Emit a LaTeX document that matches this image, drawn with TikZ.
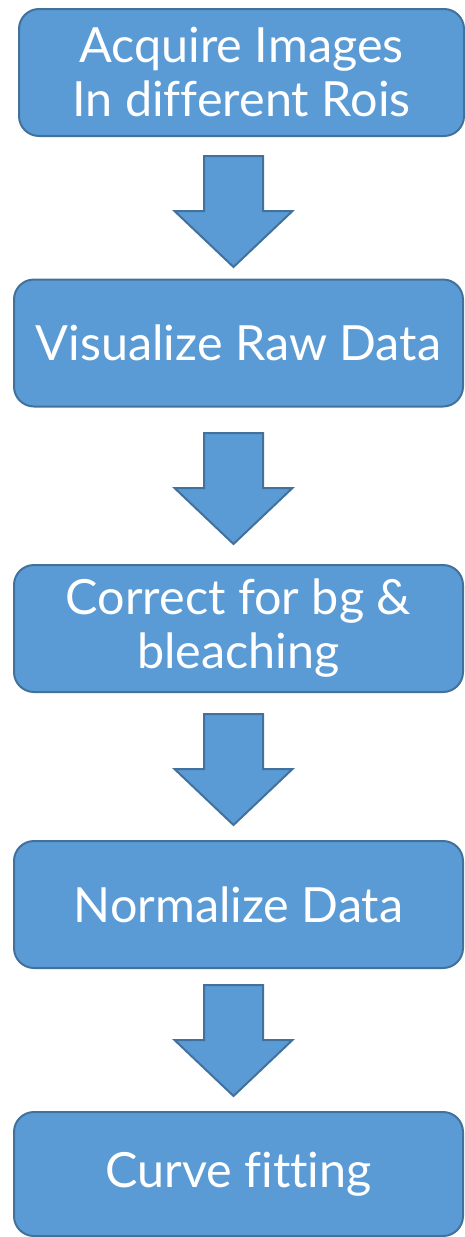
\documentclass[tikz,border=0pt]{standalone}
\usepackage{fontspec}
\setmainfont{Lato}[Ligatures={NoCommon}]
\usetikzlibrary{calc}
\definecolor{boxfill}{HTML}{5B9BD5}
\definecolor{boxline}{HTML}{41719C}
\begin{document}
\begin{tikzpicture}[x=1pt,y=1pt,
  stepbox/.style={draw=boxline, fill=boxfill, line width=2pt, rounded corners=20pt,
    minimum width=449pt, minimum height=127pt, text=white, align=center, inner sep=0pt,
    font=\fontsize{48.5}{54}\selectfont},
  arrowshape/.style={draw=boxline, fill=boxfill, line width=2pt, line join=miter},
  blockarrow/.pic={
    \draw[arrowshape] (-29.5,0) -- (29.5,0) -- (29.5,-55) -- (59,-55) -- (0,-111)
      -- (-59,-55) -- (-29.5,-55) -- cycle;
  }]
\useasboundingbox (0,0) rectangle (465,-1237);

\node[stepbox, minimum width=445pt] (b1) at (241.5,-72.5) {Acquire Images\\In different Rois};
\node[stepbox] (b2) at (238.5,-343) {Visualize Raw Data};
\node[stepbox] (b3) at (238.5,-628.5) {Correct for bg \&\\bleaching};
\node[stepbox] (b4) at (238.5,-904.5) {Normalize Data};
\node[stepbox, minimum height=124pt] (b5) at (238.5,-1174) {Curve fitting};

% block arrows between consecutive steps
\path (233.5,-156) pic {blockarrow};
\path (233.5,-433) pic {blockarrow};
\path (233.5,-714) pic {blockarrow};
\path (233.5,-985) pic {blockarrow};
\end{tikzpicture}
\end{document}
